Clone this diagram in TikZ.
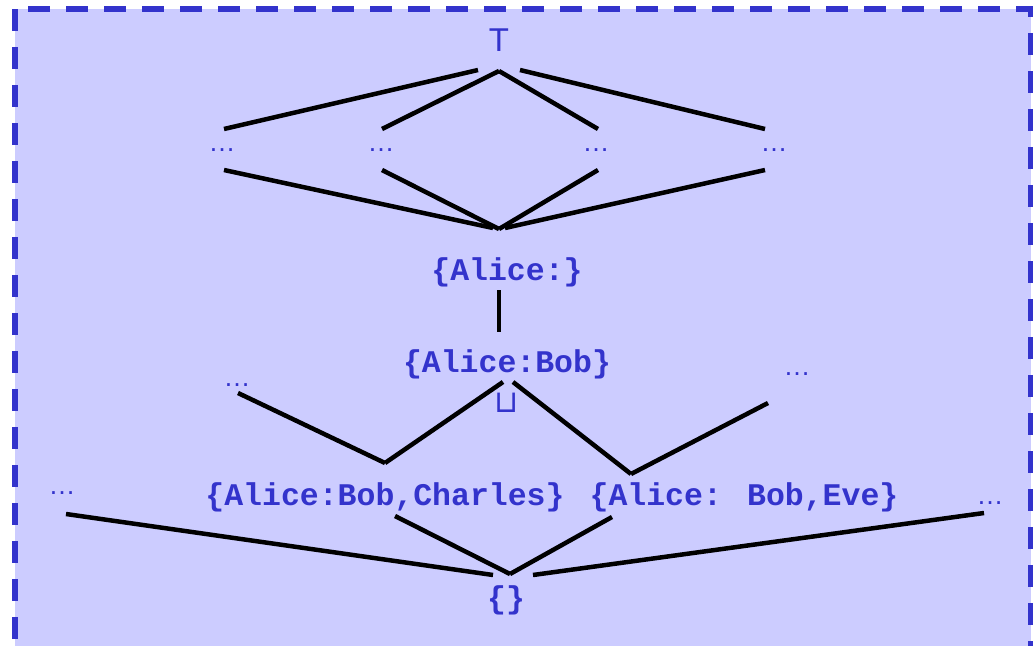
\documentclass[tikz,border=0pt]{standalone}
\usepackage{fontspec}
\newfontfamily\lmono{Liberation Mono}
\newfontfamily\lsans{Liberation Sans}
\newfontfamily\dejavu{DejaVu Sans}
\definecolor{fillb}{RGB}{204,204,255}
\definecolor{txtb}{RGB}{51,51,204}
\begin{document}
\begin{tikzpicture}[x=1pt,y=-1pt,
 lbl/.style={inner sep=0pt, text=txtb, font=\lmono\bfseries\fontsize{31.5}{36}\selectfont},
 dotsnode/.style={inner sep=0pt, text=txtb, font=\lsans\fontsize{27}{30}\selectfont},
 symb/.style={inner sep=0pt, text=txtb},
 edge/.style={line width=4.5pt, draw=black},
 framebox/.style={draw=txtb, line width=6pt, dash pattern=on 22pt off 16pt}]
\useasboundingbox (0,0) rectangle (1033,645);
\clip (0,0) rectangle (1033,645);
\fill[fillb] (14.5,9) rectangle (1030.5,700);
\draw[framebox] (14.5,9) -- (14.5,700);
\draw[framebox, dash phase=24.5pt] (14.5,9) -- (1030.5,9) -- (1030.5,700);

% nodes
\node[symb, font=\lsans\fontsize{33}{36}\selectfont] (top) at (499,40) {T};
\node[dotsnode] (d1) at (222,150) {…};
\node[dotsnode] (d2) at (381,150) {…};
\node[dotsnode] (d3) at (596,150) {…};
\node[dotsnode] (d4) at (774,150) {…};
\node[lbl] (a) at (507,272) {\{Alice:\}};
\node[lbl] (ab) at (507,364) {\{Alice:Bob\}};
\node[symb, font=\dejavu\fontsize{31}{34}\selectfont] (join) at (507,403) {⊔};
\node[dotsnode] (ml) at (237,385) {…};
\node[dotsnode] (mr) at (797,374) {…};
\node[lbl] (abc) at (385,497) {\{Alice:Bob,Charles\}};
\node[lbl] (abe) at (744,497) {\{Alice: Bob,Eve\}};
\node[dotsnode] (bl) at (62,493) {…};
\node[dotsnode] (br) at (990,503) {…};
\node[lbl] (empty) at (506,600) {\{\}};

% connector end points
\coordinate (t1) at (478,70);
\coordinate (t2) at (499,71);
\coordinate (t4) at (520,70);
\coordinate (d1u) at (224,129);
\coordinate (d2u) at (382,129);
\coordinate (d3u) at (598,129);
\coordinate (d4u) at (765,129);
\coordinate (d1l) at (224,170);
\coordinate (d2l) at (382,170);
\coordinate (d3l) at (598,170);
\coordinate (d4l) at (765,170);
\coordinate (b1) at (493,228);
\coordinate (b2) at (499,229);
\coordinate (b4) at (505,228);
\coordinate (as) at (499,290);
\coordinate (abn) at (499,332);
\coordinate (abl) at (503,382);
\coordinate (abr) at (513,382);
\coordinate (vl) at (385,463);
\coordinate (vr) at (631,474);
\coordinate (mlp) at (238,393);
\coordinate (mrp) at (768,403);
\coordinate (abcp) at (395,516);
\coordinate (abep) at (612,517);
\coordinate (e0) at (510,574);
\coordinate (el) at (493,575);
\coordinate (er) at (533,575);
\coordinate (blp) at (66,514);
\coordinate (brp) at (984,513);

% connectors
\draw[edge] (t1) -- (d1u);
\draw[edge] (t2) -- (d2u);
\draw[edge] (t2) -- (d3u);
\draw[edge] (t4) -- (d4u);
\draw[edge] (d1l) -- (b1);
\draw[edge] (d2l) -- (b2);
\draw[edge] (d3l) -- (b2);
\draw[edge] (d4l) -- (b4);
\draw[edge] (as) -- (abn);
\draw[edge] (abl) -- (vl);
\draw[edge] (mlp) -- (vl);
\draw[edge] (abr) -- (vr);
\draw[edge] (mrp) -- (vr);
\draw[edge] (abcp) -- (e0);
\draw[edge] (abep) -- (e0);
\draw[edge] (blp) -- (el);
\draw[edge] (er) -- (brp);
\end{tikzpicture}
\end{document}
